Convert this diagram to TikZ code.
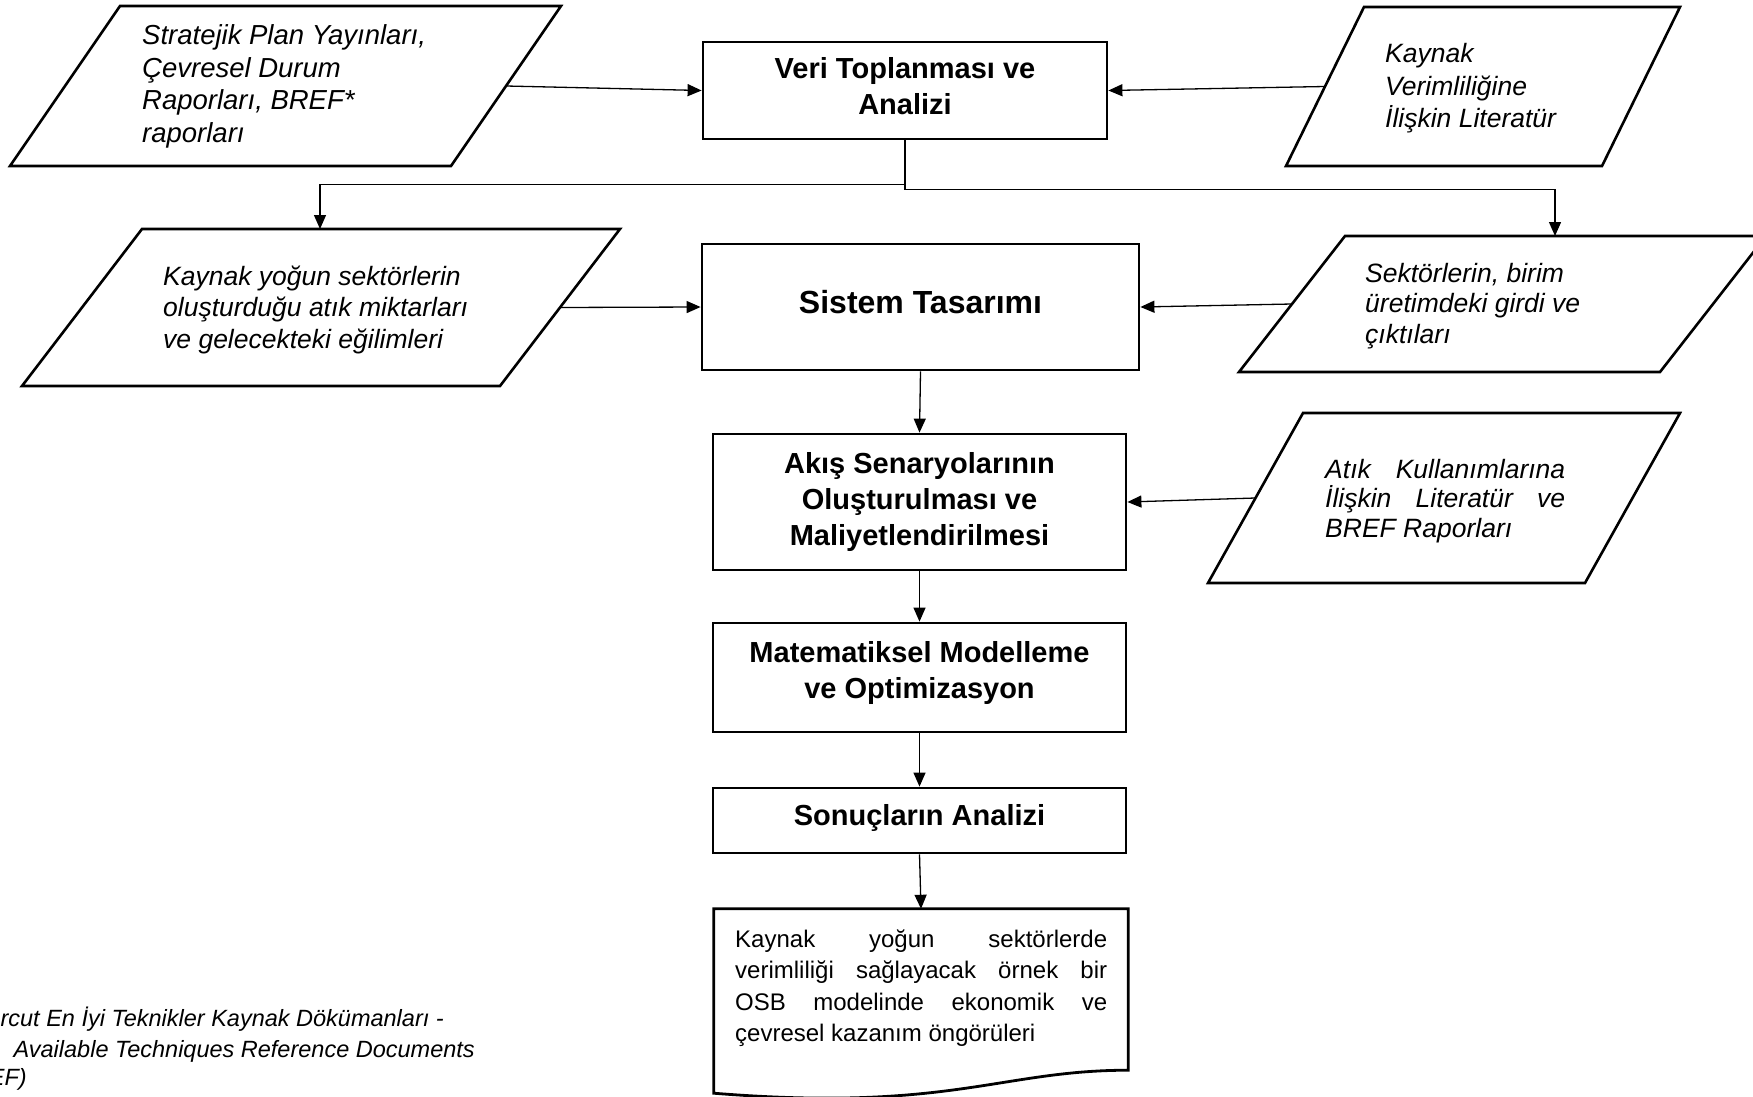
\documentclass[tikz,border=0pt]{standalone}
\usepackage{fontspec}
\setmainfont{Liberation Sans}
\usetikzlibrary{arrows.meta,calc}
\newcommand\pit[1]{\fontsize{26.5pt}{#1pt}\selectfont\itshape}
\newcommand\pbf{\fontsize{29pt}{36pt}\selectfont\bfseries}
\begin{document}
\begin{tikzpicture}[x=1pt,y=-1pt,
 boxst/.style={draw,line width=2.8pt,inner sep=0pt},
 parast/.style={draw,line width=2.6pt,line join=miter},
 conn/.style={line width=1.3pt,-{Triangle[length=14pt,width=12pt]}},
 txt/.style={inner sep=0pt,anchor=base west},
 ctxt/.style={inner sep=0pt,anchor=base}]
\path[use as bounding box,fill=white] (0,0) rectangle (1753,1097);

% parallelograms
\coordinate (p1bl) at (10,166); \coordinate (p1tl) at (120,6);
\coordinate (p1tr) at (561,6); \coordinate (p1br) at (451,166);
\draw[parast] (p1bl) -- (p1tl) -- (p1tr) -- (p1br) -- cycle;
\coordinate (p1e) at ($(p1tr)!0.5!(p1br)$);

\coordinate (p2bl) at (1286,166); \coordinate (p2tl) at (1364,7);
\coordinate (p2tr) at (1680,7); \coordinate (p2br) at (1602,166);
\draw[parast] (p2bl) -- (p2tl) -- (p2tr) -- (p2br) -- cycle;
\coordinate (p2w) at ($(p2tl)!0.5!(p2bl)$);

\coordinate (p3bl) at (22,386); \coordinate (p3tl) at (142,229);
\coordinate (p3tr) at (620,229); \coordinate (p3br) at (500,386);
\draw[parast] (p3bl) -- (p3tl) -- (p3tr) -- (p3br) -- cycle;
\coordinate (p3e) at ($(p3tr)!0.5!(p3br)$);
\coordinate (p3n) at (320,229);

\coordinate (p4bl) at (1239,372); \coordinate (p4tl) at (1345,236);
\coordinate (p4tr) at (1766,236); \coordinate (p4br) at (1660,372);
\draw[parast] (p4bl) -- (p4tl) -- (p4tr) -- (p4br) -- cycle;
\coordinate (p4w) at ($(p4tl)!0.5!(p4bl)$);
\coordinate (p4n) at (1555,236);

\coordinate (p5bl) at (1208,583); \coordinate (p5tl) at (1303,413);
\coordinate (p5tr) at (1680,413); \coordinate (p5br) at (1585,583);
\draw[parast] (p5bl) -- (p5tl) -- (p5tr) -- (p5br) -- cycle;
\coordinate (p5w) at ($(p5tl)!0.5!(p5bl)$);

% boxes
\node[boxst,minimum width=404pt,minimum height=97pt] (veri) at (905,90.5) {};
\node[boxst,minimum width=437pt,minimum height=126pt] (sistem) at (920.5,307) {};
\node[boxst,minimum width=413pt,minimum height=136pt] (akis) at (919.5,502) {};
\node[boxst,minimum width=413pt,minimum height=109pt] (mat) at (919.5,677.5) {};
\node[boxst,minimum width=413pt,minimum height=65pt] (sonuc) at (919.5,820.5) {};
\node[inner sep=0pt,minimum width=414pt,minimum height=161pt] (doc) at (921,989.5) {};
\draw[line width=2.8pt,line join=miter] (doc.south east)
  .. controls ($(doc.south east)+(-128,0)$) and ($(doc.south west)+(236,42)$) ..
  ($(doc.south west)+(0,23)$) -- (doc.north west) -- (doc.north east) -- cycle;

% connectors
\draw[conn] (p1e) -- (veri.west);
\draw[conn] (p2w) -- (veri.east);
\draw[conn] (veri.south) -- ++(0,44) -| (p3n);
\draw[conn] (veri.south) -- ++(0,49) -| (p4n);
\draw[conn] (p3e) -- (sistem.west);
\draw[conn] (p4w) -- (sistem.east);
\draw[conn] (sistem.south) -- (akis.north);
\draw[conn] (p5w) -- (akis.east);
\draw[conn] (akis.south) -- (mat.north);
\draw[conn] (mat.south) -- (sonuc.north);
\draw[conn] (sonuc.south) -- (doc.north);

% parallelogram texts
\node[txt] (t1) at (142,45) {\fontsize{27.5pt}{32.5pt}\selectfont\itshape\parbox[t]{330pt}{Stratejik Plan Yayınları,\\Çevresel Durum\\Raporları, BREF*\\raporları}};
\node[txt] (t2) at (1385,63) {\pit{32.5}\parbox[t]{260pt}{Kaynak\\Verimliliğine\\İlişkin Literatür}};
\node[txt] (t3) at (163,285) {\pit{31.5}\parbox[t]{360pt}{Kaynak yoğun sektörlerin\\oluşturduğu atık miktarları\\ve gelecekteki eğilimleri}};
\node[txt] (t4) at (1365,282) {\pit{30.5}\parbox[t]{260pt}{Sektörlerin, birim\\üretimdeki girdi ve\\çıktıları}};
\node[txt] (t5) at (1325,478) {\pit{29.5}\parbox[t]{240pt}{\makebox[240pt][s]{Atık Kullanımlarına}\\\makebox[240pt][s]{İlişkin Literatür ve}\\BREF Raporları}};

% box texts
\node[ctxt] (tv) at (905,79) {\pbf\parbox[t]{400pt}{\centering Veri Toplanması ve\\Analizi}};
\node[ctxt] (ts) at (920.5,313) {\fontsize{32pt}{38pt}\selectfont\bfseries\parbox[t]{430pt}{\centering Sistem Tasarımı}};
\node[ctxt] (ta) at (919.5,473) {\pbf\parbox[t]{410pt}{\centering Akış Senaryolarının\\Oluşturulması ve\\Maliyetlendirilmesi}};
\node[ctxt] (tm) at (919.5,662) {\pbf\parbox[t]{410pt}{\centering Matematiksel Modelleme\\ve Optimizasyon}};
\node[ctxt] (tso) at (919.5,825) {\pbf\parbox[t]{410pt}{\centering Sonuçların Analizi}};

% document text
\node[txt] (tdoc) at (735,947) {\fontsize{24pt}{31.5pt}\selectfont\parbox[t]{372pt}{\makebox[372pt][s]{Kaynak yoğun sektörlerde}\\\makebox[372pt][s]{verimliliği sağlayacak örnek bir}\\\makebox[372pt][s]{OSB modelinde ekonomik ve}\\çevresel kazanım öngörüleri}};

% footnote
\node[inner sep=0pt,anchor=base east] (fn1) at (444,1026) {\fontsize{23.5pt}{26pt}\selectfont\itshape rcut En İyi Teknikler Kaynak Dökümanları -};
\node[inner sep=0pt,anchor=base east] (fn2) at (475,1057) {\fontsize{23.5pt}{26pt}\selectfont\itshape Available Techniques Reference Documents};
\node[inner sep=0pt,anchor=base east] (fn3) at (27,1085) {\fontsize{23.5pt}{26pt}\selectfont\itshape EF)};
\end{tikzpicture}
\end{document}
